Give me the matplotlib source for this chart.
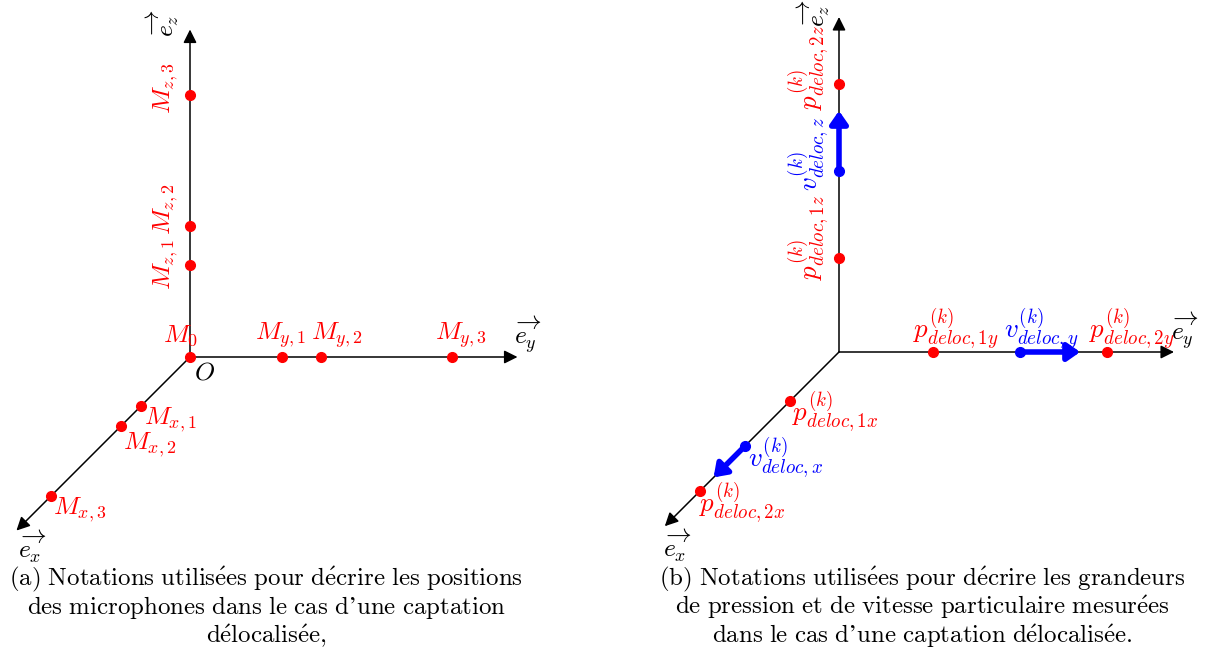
import matplotlib.pyplot as plt
from matplotlib.patches import FancyArrowPatch

plt.rcParams['mathtext.fontset'] = 'cm'

# axis length and obliquity of the x axis (cavalier projection)
axis_len = 2.5

# (a) microphone abscissae, same on each axis
mic_pos = [0.7, 1.0, 2.0]
mic_x_labels = [r'$M_{x,1}$', r'$M_{x,2}$', r'$M_{x,3}$']
mic_y_labels = [r'$M_{y,1}$', r'$M_{y,2}$', r'$M_{y,3}$']
mic_z_labels = [r'$M_{z,1}$', r'$M_{z,2}$', r'$M_{z,3}$']

# (b) pressure points and particle velocity vectors
p_pos = [0.7, 2.0]
v_pos = [1.35, 1.8]
p_labels = {
    'x': [r'$p_{deloc,1x}^{(k)}$', r'$p_{deloc,2x}^{(k)}$'],
    'y': [r'$p_{deloc,1y}^{(k)}$', r'$p_{deloc,2y}^{(k)}$'],
    'z': [r'$p_{deloc,1z}^{(k)}$', r'$p_{deloc,2z}^{(k)}$'],
}
v_labels = {'x': r'$v_{deloc,x}^{(k)}$', 'y': r'$v_{deloc,y}^{(k)}$',
            'z': r'$v_{deloc,z}^{(k)}$'}

caption_a = [r'(a) Notations utilis\acute{e}es pour d\acute{e}crire les positions',
             r'des microphones dans le cas d’une captation',
             r'd\acute{e}localis\acute{e}e,']
caption_b = [r'(b) Notations utilis\acute{e}es pour d\acute{e}crire les grandeurs',
             r'de pression et de vitesse particulaire mesur\acute{e}es',
             r'dans le cas d’une captation d\acute{e}localis\acute{e}e.']

W, H = 1212, 654
RED = '#ff0000'
BLUE = '#0000ff'
FS = 18.5
CAP_FS = 17.9


def proj(x, y, z, k):
    return (y - k * x, z - k * x)


def on_axis(axis, d, k):
    if axis == 'x':
        return proj(d, 0, 0, k)
    if axis == 'y':
        return proj(0, d, 0, k)
    return proj(0, 0, d, k)


def make_panel(fig, px_left, origin, scale):
    ox, oy = origin
    ax = fig.add_axes([px_left / W, (H - 560) / H, 606 / W, 560 / H])
    ax.set_xlim((px_left - ox) / scale, (px_left + 606 - ox) / scale)
    ax.set_ylim((oy - 560) / scale, oy / scale)
    ax.axis('off')
    return ax


def draw_frame(ax, k):
    for axis in 'xyz':
        ax.annotate('', xy=on_axis(axis, axis_len, k), xytext=(0, 0),
                    arrowprops=dict(arrowstyle='-|>', color='black', lw=1.1,
                                    mutation_scale=20, shrinkA=0, shrinkB=0),
                    zorder=1)


def label(ax, text, xy, off, color='black', rot=0, fs=FS):
    ax.annotate(text, xy=xy, xytext=off, textcoords='offset pixels',
                ha='center', va='center', color=color, fontsize=fs,
                rotation=rot)


def dot(ax, xy, color):
    ax.plot(*xy, 'o', color=color, ms=7, zorder=3)


def as_roman(line):
    # caption set in roman math so that accents come from the cm fonts
    return r'$\mathrm{' + line.replace(' ', r'\ ') + '}$'


fig = plt.figure(figsize=(W / 100, H / 100), dpi=100)

# ---- left panel: microphone positions
k = 0.53
ax = make_panel(fig, 0, (190, 357), 131)
draw_frame(ax, k)
dot(ax, (0, 0), RED)
label(ax, r'$M_0$', (0, 0), (-9, 22), RED)
label(ax, r'$O$', (0, 0), (14, -15))

x_off = [(29, -14), (29, -18), (29, -14)]
y_off = [(-1, 22), (16, 22), (9, 22)]
z_off = [(-24, 1), (-24, 17), (-24, 7)]
for d, lab, off in zip(mic_pos, mic_x_labels, x_off):
    dot(ax, on_axis('x', d, k), RED)
    label(ax, lab, on_axis('x', d, k), off, RED)
for d, lab, off in zip(mic_pos, mic_y_labels, y_off):
    dot(ax, on_axis('y', d, k), RED)
    label(ax, lab, on_axis('y', d, k), off, RED)
for d, lab, off in zip(mic_pos, mic_z_labels, z_off):
    dot(ax, on_axis('z', d, k), RED)
    label(ax, lab, on_axis('z', d, k), off, RED, rot=90)

label(ax, r'$\overrightarrow{e_x}$', on_axis('x', axis_len, k), (16, -16))
label(ax, r'$\overrightarrow{e_y}$', on_axis('y', axis_len, k), (10, 22))
label(ax, r'$\overrightarrow{e_z}$', on_axis('z', axis_len, k), (-27, 6), rot=90)

# ---- right panel: pressure and velocity quantities
k = 0.52
ax = make_panel(fig, 606, (839, 352), 134)
draw_frame(ax, k)

p_off = {'x': [(45, -12), (43, -12)], 'y': [(23, 23), (25, 23)],
         'z': [(-30, 21), (-30, 17)]}
v_off = {'x': (41, -12), 'y': (21, 23), 'z': (-30, 17)}
for axis in 'xyz':
    rot = 90 if axis == 'z' else 0
    for d, lab, off in zip(p_pos, p_labels[axis], p_off[axis]):
        dot(ax, on_axis(axis, d, k), RED)
        label(ax, lab, on_axis(axis, d, k), off, RED, rot, fs=19.5)
    start = on_axis(axis, v_pos[0], k)
    end = on_axis(axis, v_pos[1], k)
    ax.add_patch(FancyArrowPatch(start, end,
                                 arrowstyle='-|>,head_length=0.5,head_width=0.35',
                                 mutation_scale=15, lw=4.0, color=BLUE,
                                 shrinkA=0, shrinkB=0, zorder=4))
    dot(ax, start, BLUE)
    label(ax, v_labels[axis], start, v_off[axis], BLUE, rot, fs=19.5)

label(ax, r'$\overrightarrow{e_x}$', on_axis('x', axis_len, k), (13, -20))
label(ax, r'$\overrightarrow{e_y}$', on_axis('y', axis_len, k), (11, 21))
label(ax, r'$\overrightarrow{e_z}$', on_axis('z', axis_len, k), (-25, 4), rot=90)

# ---- captions
for cx, lines in ((266, caption_a), (922, caption_b)):
    for i, line in enumerate(lines):
        fig.text(cx / W, 1 - (579 + 28.5 * i) / H, as_roman(line),
                 ha='center', va='center', fontsize=CAP_FS)

fig.savefig('out.png', dpi=100)
